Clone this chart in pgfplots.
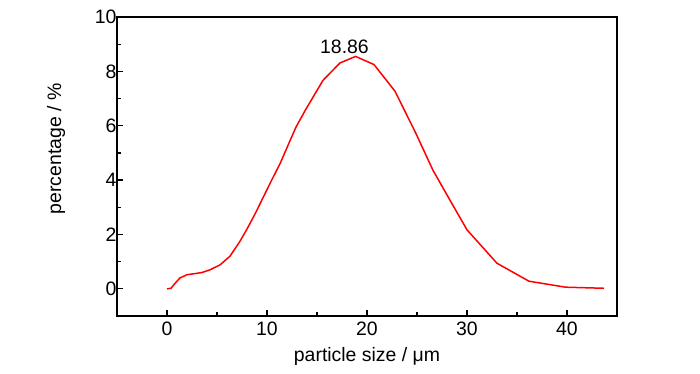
\documentclass[border=0pt]{standalone}
\usepackage{fontspec}
\setmainfont{Liberation Sans}
\usepackage{pgfplots}
\pgfplotsset{compat=1.18}
\begin{document}
\begin{tikzpicture}
\useasboundingbox (0,0) rectangle (700bp,374bp);
\begin{axis}[
  at={(117bp,58bp)}, anchor=south west,
  scale only axis, width=500bp, height=299bp,
  xmin=-5, xmax=45, ymin=-1, ymax=10,
  xtick={0,10,20,30,40}, ytick={0,2,4,6,8,10},
  minor x tick num=1, minor y tick num=1,
  tick align=inside, xtick pos=bottom, ytick pos=left,
  major tick length=6bp, minor tick length=3.5bp,
  axis line style={line width=1.5bp},
  every tick/.style={black, line width=1.2bp},
  /pgf/number format/assume math mode=true,
  tick label style={font=\fontsize{19.5}{22}\selectfont},
  label style={font=\fontsize{19.5}{22}\selectfont},
  xticklabel style={yshift=-2.5bp},
  yticklabel style={xshift=3bp},
  xlabel={particle size / μm},
  ylabel={percentage / \%},
  xlabel style={at={(axis description cs:0.5,-0.137)}, anchor=center},
  ylabel style={at={(axis description cs:-0.122,0.5585)}, anchor=center},
]
\addplot[red, line width=1.5bp, line join=round] coordinates {
(0,0) (0.4,0.02) (0.8,0.2) (1.3,0.4) (2.0,0.52) (2.8,0.56) (3.5,0.6)
(4.3,0.7) (5.3,0.88) (6.3,1.2) (7.3,1.75) (8.0,2.2) (8.8,2.75) (9.6,3.35)
(10.4,3.95) (11.3,4.6) (12.1,5.28) (12.9,5.95) (13.8,6.55) (14.6,7.05) (15.6,7.67) (17.3,8.31) (18.86,8.55)
(20.7,8.25) (22.8,7.27) (24.9,5.71) (26.6,4.36) (28.3,3.26) (30.0,2.17)
(33.0,0.94) (36.2,0.28) (39.85,0.06) (43.7,0.02)
};
\node[font=\fontsize{19.5}{22}\selectfont, anchor=base] at (axis cs:17.75,8.67) {18.86};
\end{axis}
\end{tikzpicture}
\end{document}
